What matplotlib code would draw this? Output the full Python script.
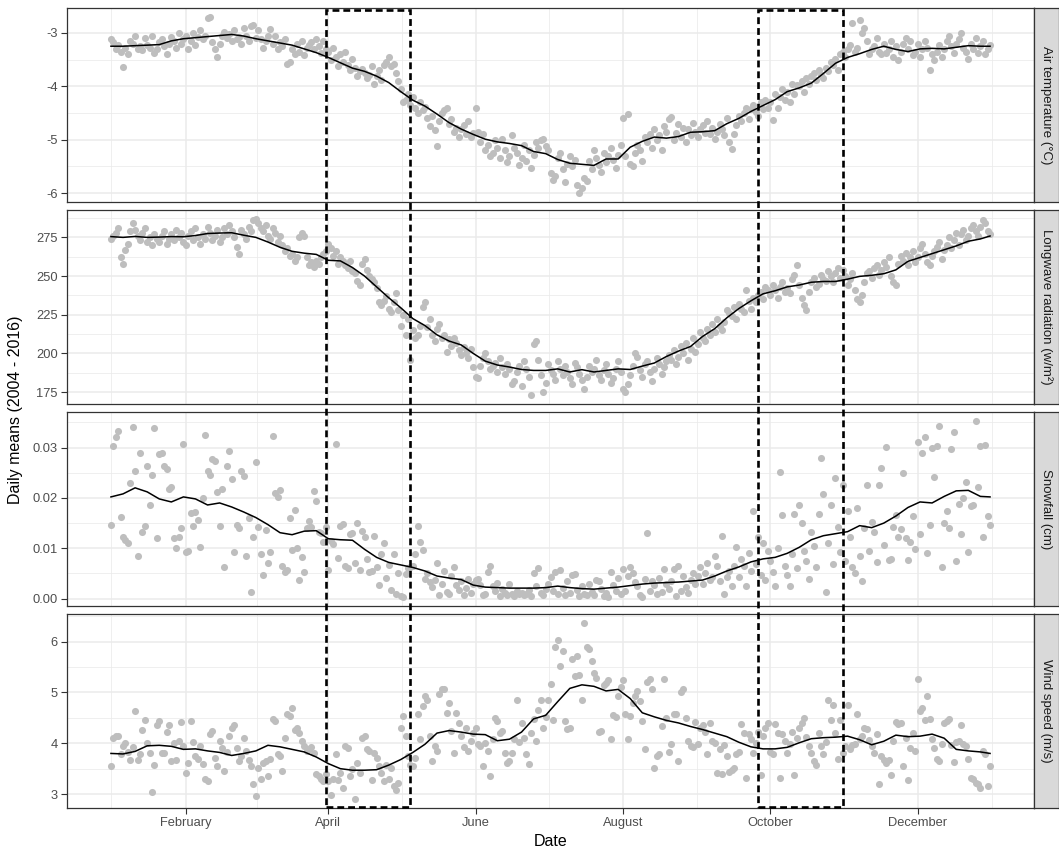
import numpy as np
import pandas as pd
import matplotlib
matplotlib.use("Agg")
import matplotlib.pyplot as plt
import matplotlib.dates as mdates
from matplotlib.patches import Rectangle
from matplotlib.ticker import MultipleLocator, FixedLocator, AutoMinorLocator, FormatStrFormatter
from matplotlib.transforms import blended_transform_factory

plt.rcParams['font.family'] = ['Liberation Sans', 'DejaVu Sans']
plt.rcParams['axes.unicode_minus'] = False

# one point per day of the (non-leap) year, smoothed line every 5 days
days = pd.date_range('2015-01-01', '2015-12-31', freq='D')
line_days = days[list(range(0, 365, 5)) + [364]]

panel_labels = ['Air temperature (°C)', 'Longwave radiation (w/m²)',
                'Snowfall (cm)', 'Wind speed (m/s)']

# daily means, Jan..Dec
air_temp = [
    # Jan
    -3.12, -3.18, -3.30, -3.22, -3.35, -3.64, -3.28, -3.40, -3.15, -3.20,
    -3.05, -3.30, -3.25, -3.33, -3.10, -3.22, -3.28, -3.05, -3.38, -3.30,
    -3.18, -3.12, -3.25, -3.40, -3.20, -3.08, -3.15, -3.28, -3.00, -3.20, -3.12,
    # Feb
    -3.05, -3.30, -3.15, -3.00, -3.22, -3.08, -2.95, -3.12, -3.05, -2.72,
    -2.70, -3.18, -3.30, -3.45, -3.20, -3.05, -2.98, -3.10, -3.02, -3.15,
    -2.95, -3.12, -3.08, -3.20, -2.90, -3.05, -3.15, -2.88,
    # Mar
    -2.85, -3.10, -2.95, -3.12, -3.28, -3.15, -3.05, -2.92, -3.20, -3.05,
    -3.30, -3.18, -3.25, -3.12, -3.58, -3.55, -3.30, -3.40, -3.20, -3.35,
    -3.15, -3.42, -3.28, -3.22, -3.18, -3.30, -3.12, -3.25, -3.38, -3.15, -3.30,
    # Apr
    -3.35, -3.50, -3.28, -3.45, -3.62, -3.40, -3.55, -3.35, -3.60, -3.70,
    -3.48, -3.65, -3.80, -3.72, -3.68, -3.75, -3.85, -3.78, -3.62, -3.95,
    -3.80, -3.70, -3.88, -3.60, -3.55, -3.45, -3.62, -3.58, -3.75, -3.90,
    # May
    -4.05, -4.30, -4.25, -4.15, -4.35, -4.20, -4.40, -4.50, -4.30, -4.45,
    -4.38, -4.60, -4.75, -4.55, -4.82, -5.12, -4.65, -4.50, -4.45, -4.40,
    -4.70, -4.62, -4.85, -4.78, -4.95, -4.80, -4.72, -4.90, -4.65, -4.95, -4.88,
    # Jun
    -4.40, -4.85, -5.05, -4.90, -5.20, -5.10, -5.30, -5.25, -5.00, -5.15,
    -5.35, -4.98, -5.20, -5.42, -5.30, -4.92, -5.15, -5.25, -5.48, -5.35,
    -5.10, -5.40, -5.20, -5.52, -5.28, -5.05, -5.15, -5.00, -4.98, -5.12,
    # Jul
    -5.20, -5.62, -5.75, -5.68, -5.35, -5.25, -5.55, -5.80, -5.45, -5.30,
    -5.50, -5.38, -5.85, -6.00, -5.90, -5.72, -5.78, -5.40, -5.55, -5.20,
    -5.35, -5.48, -5.60, -5.25, -5.42, -5.30, -5.15, -5.38, -5.52, -5.28, -5.10,
    # Aug
    -4.60, -5.30, -4.52, -5.45, -5.50, -5.25, -5.10, -5.20, -5.40, -4.95,
    -5.05, -4.90, -5.15, -4.80, -5.00, -4.92, -5.20, -4.75, -4.85, -4.62,
    -4.58, -5.00, -4.88, -4.70, -4.95, -4.78, -5.05, -4.80, -4.92, -4.68, -4.85,
    # Sep
    -4.95, -4.80, -4.72, -4.88, -4.65, -4.90, -4.78, -4.98, -4.85, -4.70,
    -4.80, -4.92, -4.60, -5.05, -5.17, -4.90, -4.72, -4.55, -4.65, -4.50,
    -4.40, -4.62, -4.43, -4.35, -4.48, -4.55, -4.30, -4.42, -4.25, -4.40,
    # Oct
    -4.30, -4.64, -4.15, -4.40, -4.20, -4.05, -4.25, -4.10, -4.30, -3.95,
    -4.15, -3.98, -4.00, -3.90, -4.10, -3.85, -3.95, -3.80, -3.75, -3.88,
    -3.70, -3.78, -3.85, -3.65, -3.72, -3.55, -3.60, -3.48, -3.70, -3.40, -3.35,
    # Nov
    -3.45, -3.30, -3.22, -2.82, -3.35, -3.28, -2.76, -3.00, -2.90, -3.15,
    -3.40, -3.30, -3.25, -3.10, -3.35, -3.40, -3.20, -3.38, -3.30, -3.15,
    -3.45, -3.25, -3.50, -3.35, -3.20, -3.10, -3.30, -3.15, -3.42, -3.35,
    # Dec
    -3.20, -3.45, -3.30, -3.15, -3.28, -3.69, -3.40, -3.50, -3.35, -3.22,
    -3.45, -3.30, -3.15, -3.05, -3.25, -3.38, -3.20, -3.12, -3.00, -3.28,
    -3.35, -3.48, -3.20, -3.30, -3.10, -3.38, -3.25, -3.15, -3.40, -3.30, -3.22,
]

longwave = [
    # Jan
    274, 276, 278, 281, 262, 258, 267, 271, 279, 284,
    280, 276, 273, 278, 281, 272, 275, 270, 277, 274,
    272, 276, 279, 271, 274, 277, 273, 280, 275, 278, 272,
    # Feb
    270, 276, 279, 273, 281, 275, 271, 277, 274, 282,
    278, 273, 276, 280, 272, 275, 281, 277, 283, 279,
    275, 269, 264, 280, 277, 274, 282, 279,
    # Mar
    286, 287, 284, 281, 279, 283, 276, 274, 281, 278,
    272, 276, 270, 266, 268, 263, 264, 260, 262, 275,
    278, 276, 262, 257, 259, 256, 260, 258, 262, 264, 266,
    # Apr
    271, 268, 263, 266, 258, 262, 260, 257, 255, 260,
    253, 252, 247, 244, 258, 261, 254, 250, 248, 246,
    242, 233, 231, 234, 237, 229, 227, 233, 239, 228,
    # May
    218, 225, 212, 222, 196, 215, 210, 212, 218, 230,
    233, 217, 222, 212, 208, 216, 219, 210, 212, 201,
    209, 205, 210, 207, 202, 199, 204, 200, 197, 203, 191,
    # Jun
    185, 184, 192, 197, 200, 195, 190, 192, 194, 188,
    197, 191, 187, 193, 190, 180, 182, 188, 192, 179,
    195, 190, 185, 173, 206, 208, 196, 186, 175, 181,
    # Jul
    193, 189, 187, 183, 195, 190, 186, 192, 188, 184,
    180, 194, 191, 187, 183, 177, 185, 192, 188, 190,
    196, 186, 183, 189, 193, 187, 181, 184, 190, 195, 188,
    # Aug
    177, 175, 180, 186, 192, 200, 198, 189, 185, 193,
    195, 188, 182, 190, 197, 193, 187, 191, 195, 199,
    196, 202, 193, 198, 205, 200, 207, 196, 203, 210, 201,
    # Sep
    206, 214, 210, 208, 216, 212, 219, 214, 222, 218,
    215, 220, 228, 226, 224, 230, 222, 232, 229, 227,
    241, 234, 229, 236, 233, 238, 240, 235, 243, 241,
    # Oct
    238, 244, 241, 236, 243, 246, 240, 242, 239, 248,
    251, 257, 244, 236, 231, 228, 240, 246, 249, 243,
    245, 251, 248, 247, 253, 250, 246, 252, 255, 249, 254,
    # Nov
    250, 244, 248, 252, 241, 235, 233, 238, 246, 252,
    253, 249, 255, 257, 251, 254, 259, 256, 262, 250,
    246, 244, 258, 263, 260, 265, 257, 262, 266, 259,
    # Dec
    262, 268, 271, 264, 259, 257, 263, 266, 269, 272,
    261, 267, 270, 275, 268, 273, 278, 270, 277, 280,
    273, 276, 281, 283, 279, 276, 282, 286, 284, 279, 277,
]

snowfall = [
    # Jan
    0.0147, 0.0303, 0.0320, 0.0333, 0.0163, 0.0123, 0.0117, 0.0110, 0.0230, 0.0340,
    0.0253, 0.0085, 0.0290, 0.0133, 0.0145, 0.0263, 0.0185, 0.0245, 0.0338, 0.0120,
    0.0287, 0.0290, 0.0263, 0.0258, 0.0217, 0.0222, 0.0120, 0.0100, 0.0122, 0.0140, 0.0307,
    # Feb
    0.0093, 0.0095, 0.0170, 0.0145, 0.0173, 0.0157, 0.0103, 0.0200, 0.0325, 0.0253,
    0.0245, 0.0277, 0.0273, 0.0211, 0.0145, 0.0218, 0.0063, 0.0263, 0.0293, 0.0237,
    0.0093, 0.0147, 0.0140, 0.0253, 0.0243, 0.0085, 0.0160, 0.0013,
    # Mar
    0.0123, 0.0271, 0.0143, 0.0089, 0.0047, 0.0137, 0.0070, 0.0093, 0.0322, 0.0209,
    0.0202, 0.0215, 0.0065, 0.0053, 0.0057, 0.0160, 0.0097, 0.0177, 0.0100, 0.0037,
    0.0083, 0.0053, 0.0140, 0.0155, 0.0143, 0.0213, 0.0193, 0.0133, 0.0130, 0.0113, 0.0142,
    # Apr
    0.0057, 0.0115, 0.0109, 0.0307, 0.0080, 0.0145, 0.0149, 0.0065, 0.0060, 0.0129,
    0.0130, 0.0070, 0.0151, 0.0057, 0.0135, 0.0122, 0.0078, 0.0053, 0.0055, 0.0125,
    0.0063, 0.0027, 0.0089, 0.0110, 0.0042, 0.0067, 0.0017, 0.0089, 0.0010, 0.0050,
    # May
    0.0005, 0.0003, 0.0049, 0.0060, 0.0063, 0.0065, 0.0089, 0.0145, 0.0113, 0.0097,
    0.0040, 0.0050, 0.0033, 0.0023, 0.0038, 0.0070, 0.0007, 0.0030, 0.0055, 0.0013,
    0.0010, 0.0045, 0.0062, 0.0027, 0.0018, 0.0035, 0.0008, 0.0022, 0.0040, 0.0012, 0.0030,
    # Jun
    0.0038, 0.0040, 0.0028, 0.0008, 0.0010, 0.0053, 0.0065, 0.0025, 0.0015, 0.0032,
    0.0005, 0.0020, 0.0012, 0.0008, 0.0030, 0.0010, 0.0006, 0.0015, 0.0009, 0.0012,
    0.0007, 0.0010, 0.0018, 0.0005, 0.0050, 0.0025, 0.0060, 0.0011, 0.0008, 0.0020,
    # Jul
    0.0030, 0.0043, 0.0015, 0.0053, 0.0010, 0.0057, 0.0022, 0.0008, 0.0035, 0.0012,
    0.0047, 0.0049, 0.0018, 0.0005, 0.0025, 0.0010, 0.0007, 0.0030, 0.0013, 0.0008,
    0.0038, 0.0036, 0.0020, 0.0006, 0.0012, 0.0004, 0.0053, 0.0028, 0.0015, 0.0042, 0.0010,
    # Aug
    0.0058, 0.0015, 0.0045, 0.0062, 0.0050, 0.0033, 0.0025, 0.0008, 0.0003, 0.0040,
    0.0131, 0.0015, 0.0035, 0.0027, 0.0010, 0.0042, 0.0013, 0.0058, 0.0030, 0.0020,
    0.0035, 0.0058, 0.0005, 0.0065, 0.0016, 0.0045, 0.0024, 0.0012, 0.0038, 0.0050, 0.0030,
    # Sep
    0.0045, 0.0062, 0.0030, 0.0050, 0.0070, 0.0038, 0.0043, 0.0085, 0.0065, 0.0035,
    0.0125, 0.0010, 0.0043, 0.0055, 0.0025, 0.0065, 0.0103, 0.0043, 0.0078, 0.0065,
    0.0025, 0.0090, 0.0055, 0.0175, 0.0068, 0.0123, 0.0047, 0.0110, 0.0038, 0.0095,
    # Oct
    0.0075, 0.0053, 0.0025, 0.0100, 0.0251, 0.0167, 0.0065, 0.0048, 0.0025, 0.0088,
    0.0168, 0.0060, 0.0185, 0.0150, 0.0095, 0.0075, 0.0040, 0.0132, 0.0105, 0.0063,
    0.0168, 0.0280, 0.0207, 0.0013, 0.0110, 0.0185, 0.0068, 0.0240, 0.0143, 0.0092, 0.0226,
    # Nov
    0.0075, 0.0175, 0.0123, 0.0063, 0.0050, 0.0180, 0.0085, 0.0035, 0.0140, 0.0226,
    0.0095, 0.0153, 0.0133, 0.0072, 0.0225, 0.0260, 0.0107, 0.0302, 0.0077, 0.0079,
    0.0143, 0.0167, 0.0122, 0.0138, 0.0249, 0.0120, 0.0077, 0.0112, 0.0165, 0.0098,
    # Dec
    0.0310, 0.0128, 0.0290, 0.0320, 0.0091, 0.0147, 0.0300, 0.0242, 0.0303, 0.0343,
    0.0062, 0.0150, 0.0175, 0.0140, 0.0297, 0.0330, 0.0075, 0.0187, 0.0129, 0.0200,
    0.0231, 0.0093, 0.0183, 0.0185, 0.0353, 0.0222, 0.0303, 0.0122, 0.0305, 0.0165, 0.0147,
]

wind = [
    # Jan
    3.55, 4.10, 4.14, 4.15, 3.78, 3.95, 4.00, 3.82, 3.68, 3.92,
    4.63, 3.68, 3.78, 4.27, 4.45, 4.00, 3.80, 3.04, 3.58, 4.35,
    4.44, 3.81, 3.80, 4.22, 4.36, 3.65, 4.01, 3.68, 4.04, 4.42, 3.95,
    # Feb
    3.42, 3.62, 4.44, 4.02, 3.75, 3.70, 3.95, 3.60, 3.29, 3.25,
    4.18, 4.25, 3.72, 3.55, 4.04, 3.90, 3.45, 3.82, 4.15, 4.30,
    4.35, 3.90, 3.65, 3.75, 4.10, 3.85, 3.68, 3.55,
    # Mar
    3.19, 2.96, 3.52, 3.30, 3.62, 3.65, 3.35, 3.70, 4.47, 4.44,
    3.78, 3.75, 3.45, 4.11, 4.57, 4.54, 4.70, 4.27, 4.31, 4.21,
    4.04, 3.95, 3.85, 3.88, 3.92, 3.80, 3.39, 3.35, 3.30, 3.26, 3.40,
    # Apr
    3.26, 2.99, 3.30, 3.78, 3.28, 3.42, 3.12, 3.95, 3.91, 3.35,
    3.50, 2.90, 3.62, 3.42, 4.11, 4.14, 3.88, 3.85, 3.28, 3.80,
    3.72, 3.55, 3.42, 3.26, 3.58, 3.30, 3.52, 3.16, 3.09, 3.22,
    # May
    4.31, 4.54, 4.14, 3.75, 3.58, 3.55, 3.72, 4.57, 4.08, 4.73,
    4.93, 4.86, 4.14, 3.65, 3.95, 3.85, 4.96, 5.06, 5.07, 4.60,
    4.80, 4.24, 3.81, 4.60, 4.40, 4.15, 3.92, 4.30, 3.85, 4.05, 4.20,
    # Jun
    4.31, 3.98, 3.95, 3.55, 4.01, 3.85, 3.35, 4.08, 4.50, 4.44,
    4.21, 4.24, 3.80, 3.62, 3.65, 3.81, 4.08, 4.86, 4.02, 4.40,
    4.10, 3.78, 3.60, 4.20, 4.48, 4.05, 4.65, 4.86, 4.30, 4.52,
    # Jul
    4.86, 5.16, 4.45, 5.90, 6.04, 5.52, 5.81, 4.44, 4.29, 4.30,
    5.65, 5.32, 5.71, 5.35, 4.86, 6.37, 5.90, 5.86, 5.61, 5.39,
    5.29, 4.22, 4.25, 5.15, 5.18, 5.25, 4.08, 4.55, 4.52, 4.93, 5.10,
    # Aug
    5.25, 4.57, 4.08, 4.53, 4.80, 4.93, 5.03, 4.83, 4.44, 3.89,
    5.21, 5.26, 5.06, 3.52, 3.75, 3.78, 4.34, 5.26, 4.50, 3.83,
    3.98, 4.57, 4.57, 3.65, 5.01, 5.06, 4.50, 4.04, 3.95, 3.92, 4.42,
    # Sep
    3.98, 4.31, 4.35, 4.22, 3.78, 4.39, 4.04, 4.01, 3.41, 3.88,
    3.39, 3.96, 3.75, 3.43, 3.48, 3.52, 3.78, 3.83, 4.37, 4.21,
    3.32, 4.18, 4.08, 3.80, 4.01, 4.22, 3.37, 4.14, 4.31, 4.40,
    # Oct
    3.82, 3.78, 4.37, 4.21, 3.32, 4.18, 4.05, 3.80, 3.98, 4.22,
    3.37, 4.10, 4.31, 4.40, 4.50, 4.12, 3.95, 3.80, 3.65, 3.58,
    4.21, 3.95, 3.78, 4.02, 4.86, 4.46, 4.75, 4.20, 3.70, 4.46, 3.81,
    # Nov
    3.95, 4.75, 3.88, 3.96, 3.98, 4.57, 4.08, 4.14, 4.31, 4.28,
    4.06, 3.95, 3.80, 4.18, 3.19, 3.75, 3.68, 3.62, 3.67, 3.37,
    4.04, 4.42, 4.38, 4.40, 3.55, 4.10, 3.28, 3.90, 4.20, 3.85,
    # Dec
    5.26, 4.64, 4.70, 4.46, 4.93, 4.48, 4.09, 3.91, 3.70, 3.65,
    3.98, 4.39, 4.44, 4.48, 3.96, 3.63, 4.02, 4.05, 4.35, 3.98,
    3.95, 3.70, 3.32, 3.29, 3.22, 3.20, 3.12, 3.85, 3.78, 3.15, 3.56,
]

# smoothed curves (every 5th day + last day)
air_temp_line = [
    -3.25, -3.25, -3.24, -3.23, -3.22, -3.15, -3.11, -3.09, -3.07, -3.05,
    -3.03, -3.06, -3.11, -3.15, -3.19, -3.23, -3.30, -3.37, -3.46, -3.56,
    -3.66, -3.72, -3.81, -3.93, -4.10, -4.26, -4.37, -4.52, -4.68, -4.80,
    -4.90, -4.99, -5.04, -5.07, -5.11, -5.22, -5.26, -5.37, -5.44, -5.46,
    -5.48, -5.36, -5.36, -5.14, -5.03, -4.95, -4.97, -4.94, -4.86, -4.85,
    -4.83, -4.70, -4.60, -4.47, -4.36, -4.25, -4.10, -4.03, -3.94, -3.76,
    -3.57, -3.46, -3.39, -3.31, -3.25, -3.31, -3.35, -3.30, -3.29, -3.30,
    -3.27, -3.24, -3.25, -3.25,
]
longwave_line = [
    275.5, 275.0, 275.6, 275.0, 275.2, 275.5, 275.4, 276.2, 277.5, 277.8,
    278.0, 276.4, 275.0, 272.0, 268.6, 266.0, 264.8, 264.0, 260.2, 259.8,
    255.5, 250.0, 243.0, 236.0, 229.5, 222.5, 218.0, 212.0, 208.0, 205.5,
    200.0, 195.0, 192.5, 191.2, 189.6, 189.0, 189.0, 190.0, 188.0, 189.5,
    188.0, 189.0, 190.0, 189.6, 191.8, 193.8, 198.0, 201.5, 204.5, 211.0,
    216.0, 223.0, 229.0, 234.0, 238.5, 240.5, 243.0, 244.2, 246.0, 246.5,
    246.5, 248.0, 249.8, 250.5, 251.5, 254.0, 259.5, 262.0, 264.5, 267.0,
    269.5, 272.5, 274.0, 275.9,
]
snowfall_line = [
    0.0202, 0.0208, 0.0220, 0.0212, 0.0198, 0.0192, 0.0202, 0.0198, 0.0186, 0.0190,
    0.0182, 0.0172, 0.0161, 0.0147, 0.0131, 0.0127, 0.0134, 0.0135, 0.0119, 0.0117,
    0.0116, 0.0098, 0.0082, 0.0072, 0.0067, 0.0062, 0.0055, 0.0045, 0.0041, 0.0038,
    0.0027, 0.0023, 0.0022, 0.0021, 0.0021, 0.0021, 0.0022, 0.0025, 0.0022, 0.0020,
    0.0019, 0.0021, 0.0023, 0.0026, 0.0029, 0.0031, 0.0032, 0.0033, 0.0035, 0.0037,
    0.0045, 0.0055, 0.0063, 0.0073, 0.0079, 0.0082, 0.0090, 0.0102, 0.0117, 0.0125,
    0.0129, 0.0133, 0.0145, 0.0141, 0.0150, 0.0164, 0.0181, 0.0192, 0.0190, 0.0203,
    0.0214, 0.0215, 0.0203, 0.0202,
]
wind_line = [
    3.80, 3.79, 3.84, 3.95, 3.96, 3.94, 3.88, 3.89, 3.85, 3.82,
    3.76, 3.80, 3.85, 3.96, 3.93, 3.88, 3.83, 3.73, 3.60, 3.50,
    3.47, 3.47, 3.48, 3.57, 3.68, 3.82, 3.98, 4.20, 4.25, 4.22,
    4.18, 4.17, 4.05, 4.08, 4.22, 4.48, 4.55, 4.82, 5.08, 5.15,
    5.12, 5.03, 5.06, 4.88, 4.60, 4.52, 4.45, 4.40, 4.33, 4.27,
    4.20, 4.13, 4.02, 3.93, 3.89, 3.89, 3.92, 4.01, 4.09, 4.11,
    4.12, 4.14, 4.07, 3.97, 4.04, 4.16, 4.13, 4.14, 4.18, 4.10,
    3.88, 3.85, 3.83, 3.80,
]

# highlighted periods (dashed boxes)
windows = [('2015-03-31', '2015-05-05'), ('2015-09-26', '2015-10-31')]

panels = [
    (air_temp, air_temp_line, 1, '%d'),
    (longwave, longwave_line, 25, '%d'),
    (snowfall, snowfall_line, 0.01, '%.2f'),
    (wind, wind_line, 1, '%d'),
]

W, H = 1059, 850
fig = plt.figure(figsize=(W / 100, H / 100), dpi=100)
left, right, strip_w = 67, 1034, 25
tops = [8, 210, 412, 614]
ph = 194

# minor x grid half-way between the 2-month major breaks
major_dates = pd.to_datetime(['2014-12-01', '2015-02-01', '2015-04-01', '2015-06-01',
                              '2015-08-01', '2015-10-01', '2015-12-01', '2016-02-01'])
major_num = mdates.date2num(major_dates)
minor_x = (major_num[:-1] + major_num[1:]) / 2

axes = []
for i, (vals, line, step, fmt) in enumerate(panels):
    top = tops[i]
    ax = fig.add_axes([left / W, 1 - (top + ph) / H, (right - left) / W, ph / H])
    ax.scatter(days, vals, s=26, color='#BEBEBE', linewidths=0, zorder=2)
    ax.plot(line_days, line, color='black', lw=1.1, zorder=3)
    ax.margins(x=0.05, y=0.05)

    ax.yaxis.set_major_locator(MultipleLocator(step))
    ax.yaxis.set_minor_locator(AutoMinorLocator(2))
    ax.yaxis.set_major_formatter(FormatStrFormatter(fmt))
    ax.xaxis.set_major_locator(mdates.MonthLocator(bymonth=[2, 4, 6, 8, 10, 12]))
    ax.xaxis.set_major_formatter(mdates.DateFormatter('%B'))
    ax.xaxis.set_minor_locator(FixedLocator(minor_x))

    ax.set_axisbelow(True)
    ax.grid(which='major', color='#EBEBEB', lw=1.1)
    ax.grid(which='minor', color='#EBEBEB', lw=0.55)
    ax.tick_params(which='major', length=4, width=0.8, color='#333333',
                   labelsize=9.3, labelcolor='#4D4D4D', pad=2.5)
    ax.tick_params(which='minor', length=0)
    if i < 3:
        ax.tick_params(axis='x', which='both', bottom=False, labelbottom=False)
    for s in ax.spines.values():
        s.set_color('#333333')
        s.set_linewidth(0.9)

    # facet strip on the right
    sax = fig.add_axes([right / W, 1 - (top + ph) / H, strip_w / W, ph / H])
    sax.set_facecolor('#D9D9D9')
    sax.set_xticks([])
    sax.set_yticks([])
    for s in sax.spines.values():
        s.set_color('#333333')
        s.set_linewidth(0.9)
    sax.text(0.5, 0.5, panel_labels[i], rotation=270, ha='center', va='center',
             transform=sax.transAxes, fontsize=9.5, color='#1A1A1A')
    axes.append(ax)

# dashed boxes across all panels
trans = blended_transform_factory(axes[-1].transData, fig.transFigure)
y_bot = 1 - (tops[-1] + ph - 1.5) / H
y_top = 1 - (tops[0] + 1.5) / H
for start, end in windows:
    x0 = mdates.date2num(pd.Timestamp(start))
    x1 = mdates.date2num(pd.Timestamp(end))
    rect = Rectangle((x0, y_bot), x1 - x0, y_top - y_bot, transform=trans,
                     fill=False, ec='black', lw=1.9, ls=(0, (2.6, 1.5)), zorder=10)
    fig.add_artist(rect)

fig.text(16 / W, 1 - 410 / H, 'Daily means (2004 - 2016)', rotation=90,
         ha='center', va='center', fontsize=11.5)
fig.text((left + right) / 2 / W, 1 - 841 / H, 'Date', ha='center', va='center',
         fontsize=11.5)

fig.savefig('out.png', dpi=100)
